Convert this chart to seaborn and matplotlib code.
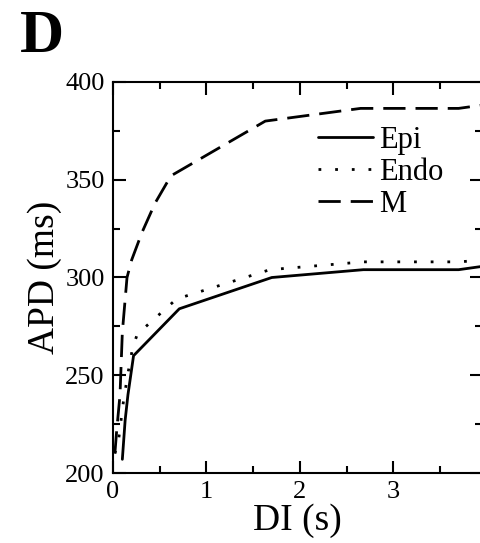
import matplotlib
matplotlib.use("Agg")
import matplotlib.pyplot as plt
from matplotlib.ticker import MultipleLocator
import seaborn as sns
import pandas as pd

# ---- data ----
epi_di = [0.10, 0.13, 0.16, 0.22, 0.71, 1.70, 2.68, 3.70, 4.00]
epi_apd = [207, 227, 240, 260, 284, 300, 304, 304, 306]

endo_di = [0.02, 0.06, 0.11, 0.16, 0.21, 0.26, 0.68, 1.68, 2.68, 3.70, 4.00]
endo_apd = [210, 217, 236, 251, 264, 271, 289, 304, 308, 308, 309]

m_di = [0.02, 0.04, 0.075, 0.10, 0.15, 0.20, 0.31, 0.45, 0.62, 1.63, 2.65, 3.70, 4.00]
m_apd = [210, 222, 240, 272, 300, 309, 323, 338, 352, 380, 386.5, 386.5, 388.5]

series_names = ["Epi", "Endo", "M"]
x_ticks = [0, 1, 2, 3]
y_ticks = [200, 250, 300, 350, 400]

sns.set_style("ticks")
plt.rcParams["font.family"] = ["Liberation Serif", "DejaVu Serif"]
for k in ["text.color", "axes.labelcolor", "xtick.color", "ytick.color", "axes.edgecolor"]:
    plt.rcParams[k] = "black"

W, H = 481, 543
fig = plt.figure(figsize=(W / 100, H / 100), dpi=100)
ax = fig.add_axes([113 / W, 1 - 473 / H, (482 - 113) / W, (473 - 82) / H])

styles = {
    "Epi": dict(linestyle="-"),
    "Endo": dict(dashes=(1, 5)),
    "M": dict(dashes=(8, 3.6)),
}
data = {"Epi": (epi_di, epi_apd), "Endo": (endo_di, endo_apd), "M": (m_di, m_apd)}

for name in series_names:
    xs, ys = data[name]
    df = pd.DataFrame({"DI": xs, "APD": ys})
    sns.lineplot(data=df, x="DI", y="APD", ax=ax, color="black", lw=2,
                 estimator=None, sort=False, label=name, **styles[name])

ax.set_xlim(0, 3.95)
ax.set_ylim(200, 400)
ax.set_xticks(x_ticks)
ax.set_yticks(y_ticks)
ax.xaxis.set_minor_locator(MultipleLocator(0.5))
ax.yaxis.set_minor_locator(MultipleLocator(25))
ax.tick_params(which="both", direction="in", top=True, right=True, width=1.5,
               color="black", labelcolor="black", labelsize=19, pad=6)
ax.tick_params(which="major", length=9)
ax.tick_params(which="minor", length=5)
for sp in ax.spines.values():
    sp.set_linewidth(1.5)
    sp.set_color("black")
    sp.set_visible(True)

ax.set_xlabel("DI (s)", fontsize=27, labelpad=0, color="black")
ax.set_ylabel("APD (ms)", fontsize=27, labelpad=2, color="black")

leg = ax.legend(loc="upper left", bbox_to_anchor=(318 / W, 1 - 126 / H),
                bbox_transform=fig.transFigure, frameon=False, fontsize=22,
                handlelength=1.8, handletextpad=0.2, labelspacing=0.1,
                borderpad=0, borderaxespad=0)
for t in leg.get_texts():
    t.set_color("black")

fig.text(20 / W, 1 - 52 / H, "D", fontsize=44, fontweight="bold",
         ha="left", va="baseline", color="black")

fig.savefig("out.png", dpi=100)
